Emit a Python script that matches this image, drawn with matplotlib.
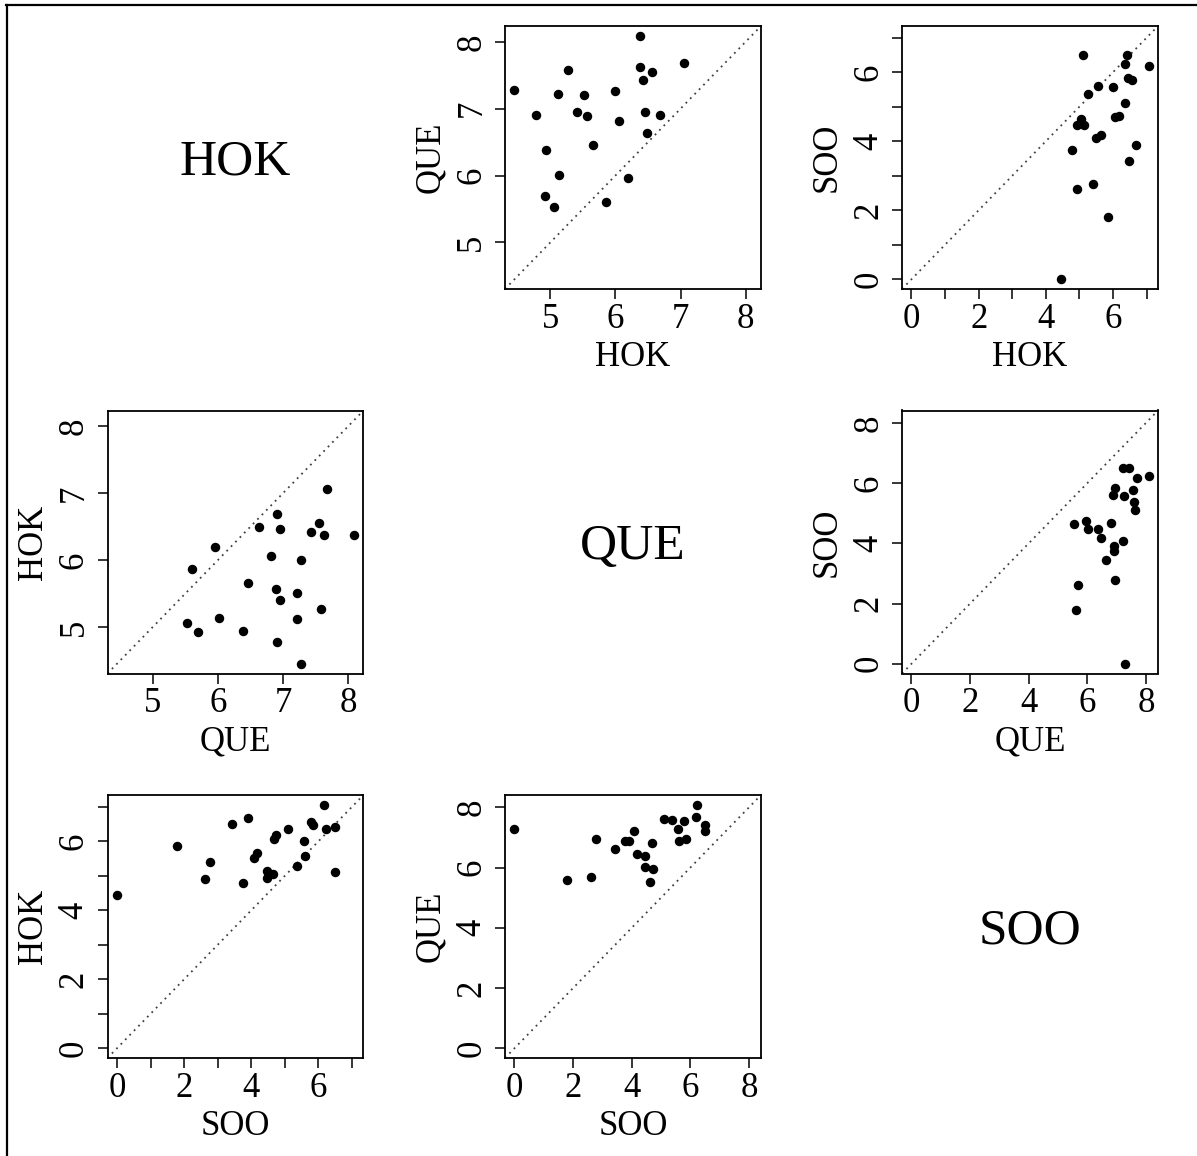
import matplotlib
matplotlib.use('Agg')
import matplotlib.pyplot as plt
from matplotlib.lines import Line2D

plt.rcParams['font.family'] = ['Liberation Serif', 'DejaVu Serif']

# values, one entry per site
HOK = [4.45, 4.78, 4.92, 4.94, 5.06, 5.12, 5.14, 5.27, 5.41, 5.51, 5.56, 5.65,
       5.86, 6.00, 6.06, 6.19, 6.37, 6.37, 6.42, 6.46, 6.49, 6.56, 6.69, 7.06]
QUE = [7.28, 6.90, 5.69, 6.38, 5.53, 7.22, 6.01, 7.58, 6.95, 7.21, 6.89, 6.46,
       5.60, 7.27, 6.82, 5.96, 8.09, 7.63, 7.43, 6.95, 6.63, 7.55, 6.90, 7.68]
SOO = [0.00, 3.76, 2.61, 4.47, 4.64, 6.49, 4.47, 5.36, 2.77, 4.09, 5.60, 4.17,
       1.80, 5.57, 4.69, 4.74, 6.24, 5.10, 6.49, 5.84, 3.44, 5.77, 3.90, 6.18]

names = ['HOK', 'QUE', 'SOO']
data = {'HOK': HOK, 'QUE': QUE, 'SOO': SOO}

# ticks / labelled ticks for each pair of variables
ticks = {
    ('HOK', 'QUE'): ([5, 6, 7, 8], [5, 6, 7, 8]),
    ('HOK', 'SOO'): (list(range(8)), [0, 2, 4, 6]),
    ('QUE', 'SOO'): ([0, 2, 4, 6, 8], [0, 2, 4, 6, 8]),
}

W, H = 1197, 1156
fig = plt.figure(figsize=(W / 100, H / 100), dpi=100)

col_left = [107.5, 505, 902]
row_top = [26, 410.5, 795]
pw, ph = 256, 263

fs = 25

for i, rname in enumerate(names):
    for j, cname in enumerate(names):
        x0 = col_left[j]
        y0 = row_top[i]
        if i == j:
            # variable name in the diagonal cell
            fig.text((x0 + pw / 2) / W, 1 - (y0 + ph / 2 + 17) / H, rname,
                     ha='center', va='baseline', fontsize=37)
            continue
        # row variable on x, column variable on y
        xn, yn = rname, cname
        ax = fig.add_axes([x0 / W, 1 - (y0 + ph) / H, pw / W, ph / H])
        x = data[xn]
        y = data[yn]
        lo = min(min(x), min(y))
        hi = max(max(x), max(y))
        d = (hi - lo) * 0.04
        ax.set_xlim(lo - d, hi + d)
        ax.set_ylim(lo - d, hi + d)
        ax.plot([lo - d, hi + d], [lo - d, hi + d], color='0.25',
                linestyle=(0, (1, 2.5)), linewidth=1.3)
        ax.plot(x, y, 'o', color='black', markersize=5.8)

        key = tuple(sorted([xn, yn], key=names.index))
        tk, lab = ticks[key]
        labels = [str(t) if t in lab else '' for t in tk]
        ax.set_xticks(tk)
        ax.set_xticklabels(labels, fontsize=fs)
        ax.set_yticks(tk)
        ax.set_yticklabels(labels, fontsize=fs, rotation=90, va='center')
        ax.tick_params(length=7, width=1.1, pad=3)
        ax.tick_params(axis='y', pad=5)
        for s in ax.spines.values():
            s.set_linewidth(1.3)
        ax.set_xlabel(xn, fontsize=fs, labelpad=4)
        ax.set_ylabel(yn, fontsize=fs, labelpad=6)

# frame lines of the screenshot
fig.add_artist(Line2D([6 / W, 1], [1 - 4.5 / H, 1 - 4.5 / H],
                      transform=fig.transFigure, color='black', linewidth=1.6))
fig.add_artist(Line2D([6.5 / W, 6.5 / W], [0, 1 - 4.5 / H],
                      transform=fig.transFigure, color='black', linewidth=1.6))

fig.savefig('out.png', dpi=100)
